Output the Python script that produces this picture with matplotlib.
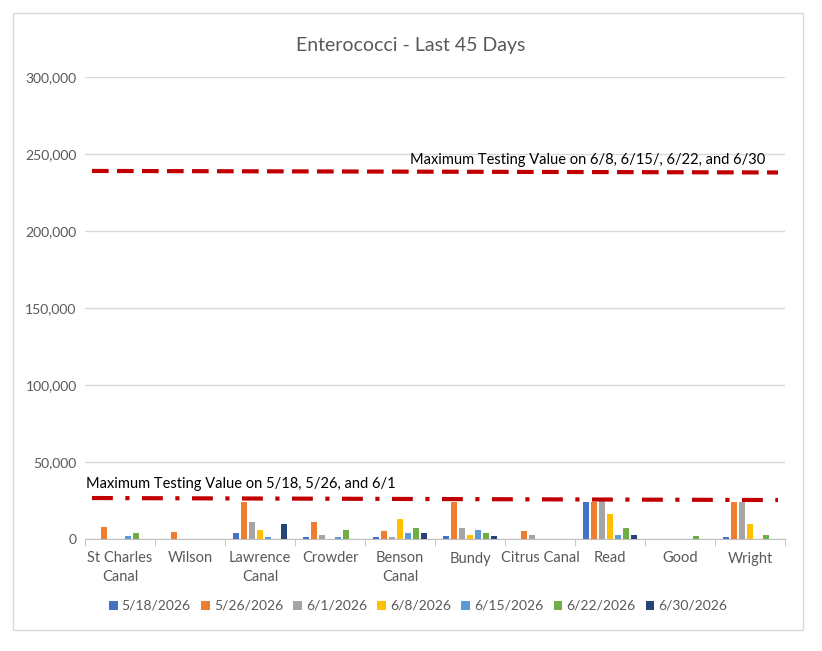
import matplotlib.pyplot as plt
import numpy as np
from matplotlib.patches import Rectangle

plt.rcParams['font.family'] = ['Lato', 'DejaVu Sans']

sites = ['St Charles\nCanal', 'Wilson', 'Lawrence\nCanal', 'Crowder', 'Benson\nCanal',
         'Bundy', 'Citrus Canal', 'Read', 'Good', 'Wright']
dates = ['5/18/2026', '5/26/2026', '6/1/2026', '6/8/2026', '6/15/2026', '6/22/2026', '6/30/2026']
colors = ['#4472C4', '#ED7D31', '#A5A5A5', '#FFC000', '#5B9BD5', '#70AD47', '#264478']

# one list per sampling date, values per site
d0518 = [0, 0, 4000, 1500, 1500, 1800, 0, 24000, 0, 1200]
d0526 = [8000, 4500, 24000, 11000, 5000, 24000, 5000, 24000, 0, 24000]
d0601 = [0, 0, 11000, 2500, 1200, 7000, 2500, 25000, 0, 24000]
d0608 = [0, 0, 5800, 0, 13000, 2500, 0, 16000, 0, 10000]
d0615 = [2000, 0, 1200, 1000, 3800, 6000, 0, 2500, 0, 0]
d0622 = [3800, 0, 0, 5600, 7300, 4000, 0, 7000, 2000, 2500]
d0630 = [0, 0, 9700, 0, 3700, 2000, 0, 2500, 0, 0]
series = [d0518, d0526, d0601, d0608, d0615, d0622, d0630]

max_late = [239000, 238000]   # 6/8 - 6/30 max testing value
max_early = [26600, 25300]    # 5/18 - 6/1 max testing value

fig = plt.figure(figsize=(8.22, 6.51), dpi=100)
fig.patches.append(Rectangle((13/822, 1-630/651), 790/822, 617/651, transform=fig.transFigure,
                             fill=False, edgecolor='#D9D9D9', lw=1))
ax = fig.add_axes([85/822, 1-539/651, 700/822, 462/651])

x = np.arange(len(sites))
slot = 0.116
w = 0.085
for i, (vals, c, d) in enumerate(zip(series, colors, dates)):
    ax.bar(x + (i - 3) * slot, vals, w, color=c, label=d, zorder=3)

ax.plot([-0.4, 9.4], max_late, color='#C00000', lw=3, ls=(0, (4, 2)), zorder=4)
ax.plot([-0.4, 9.4], max_early, color='#C00000', lw=3, ls=(0, (5, 3, 1, 3)), zorder=4)
ax.text(4.14, 243500, 'Maximum Testing Value on 6/8, 6/15/, 6/22, and 6/30', fontsize=10.5, color='black')
ax.text(-0.48, 33000, 'Maximum Testing Value on 5/18, 5/26, and 6/1', fontsize=10.5, color='black')

ax.set_xlim(-0.5, 9.5)
ax.set_ylim(0, 300000)
ax.set_yticks(np.arange(0, 300001, 50000))
ax.set_yticklabels([f'{v:,}' for v in range(0, 300001, 50000)])
ax.yaxis.grid(True, color='#D9D9D9', lw=1, zorder=0)
ax.set_xticks(x)
ax.set_xticklabels(sites, linespacing=1.45)
ax.set_xticks(np.arange(-0.5, 10, 1), minor=True)
ax.tick_params(axis='x', which='major', length=0, pad=9, labelsize=10.5, labelcolor='#595959')
ax.tick_params(axis='x', which='minor', length=5, color='#BFBFBF')
ax.tick_params(axis='y', length=0, labelsize=10, labelcolor='#595959', pad=6)
for s in ['top', 'right', 'left']:
    ax.spines[s].set_visible(False)
ax.spines['bottom'].set_color('#BFBFBF')

fig.text(0.5, 1-45/651, 'Enterococci - Last 45 Days', ha='center', va='center',
         fontsize=14, color='#595959')
ax.legend(loc='center', bbox_to_anchor=(0.476, -0.145), ncol=7, frameon=False,
          fontsize=10, handlelength=0.6, handleheight=0.6, columnspacing=0.75,
          handletextpad=0.3, labelcolor='#595959')

fig.savefig('out.png', dpi=100)
